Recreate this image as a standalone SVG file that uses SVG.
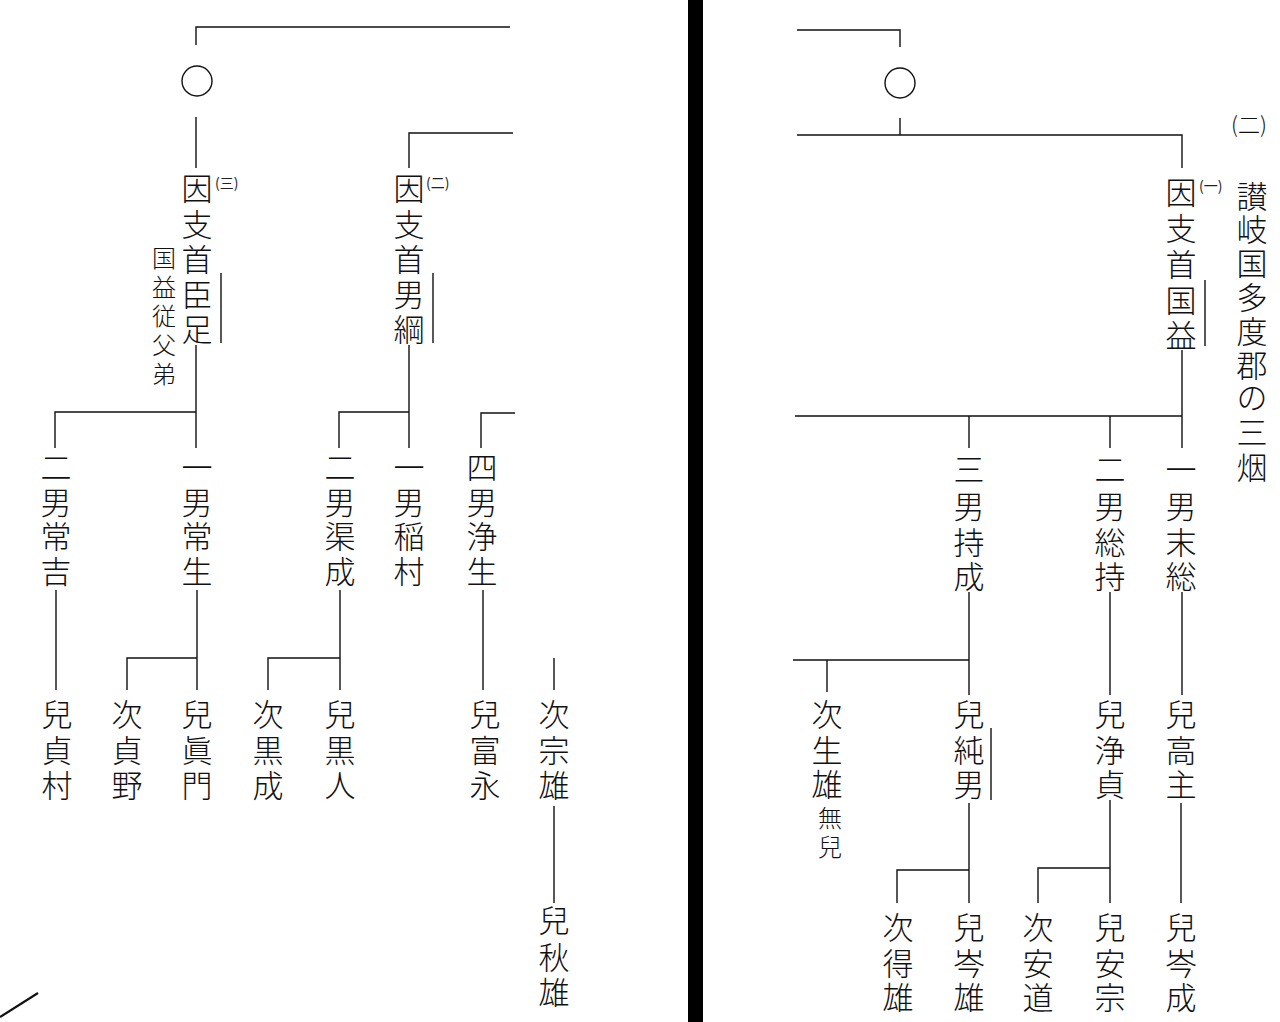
<svg xmlns="http://www.w3.org/2000/svg" width="1280" height="1022" viewBox="0 0 1280 1022">
<style>
.t{font-family:"Noto Sans CJK JP","Noto Sans CJK SC",sans-serif;font-size:31px;font-weight:300;fill:#111;text-anchor:middle;dominant-baseline:central}
.s{font-size:24px}
.n{font-family:"Noto Sans CJK JP",sans-serif;font-size:14px;fill:#222;dominant-baseline:central}
.c path,.c line{stroke:#111;stroke-width:1.4;fill:none}
.b{stroke:#111;stroke-width:1.4}
</style>
<rect width="1280" height="1022" fill="#fff"/>
<rect x="688" y="0" width="15" height="1022" fill="#000"/>
<line x1="38" y1="993" x2="0" y2="1017" stroke="#111" stroke-width="2.2"/>

<g class="c" id="connectors">
  <path d="M510 27H196V45"/>
  <path d="M196 117V168"/>
  <path d="M196 345V448M196 412H55V448"/>
  <path d="M56 590V690"/>
  <path d="M197 590V690M197 658H127V690"/>
  <path d="M513 133H409V168"/>
  <path d="M409 345V448M409 412H339V448"/>
  <path d="M340 590V690M340 658H268V690"/>
  <path d="M515 413H481V448"/>
  <path d="M483 590V690"/>
  <path d="M554 658V690M554 806V903"/>
  <path d="M797 30H900V47"/>
  <path d="M900 118V135M797 135H1182V168"/>
  <path d="M1182 350V448M795 416H1182M969 416V448M1110 416V448"/>
  <path d="M969 592V695M969 660H793M827 660V692"/>
  <path d="M1110 592V695"/>
  <path d="M1182 592V695"/>
  <path d="M969 803V903M969 870H897V903"/>
  <path d="M1110 800V903M1110 868H1038V903"/>
  <path d="M1181 803V903"/>
</g>

<g id="left-top-circle"><circle cx="197" cy="81" r="15" fill="none" stroke="#111" stroke-width="1.4"/></g>
<g id="right-top-circle"><circle cx="900" cy="83" r="15" fill="none" stroke="#111" stroke-width="1.4"/></g>

<g id="n-omi">
  <text class="t" x="197 197 197 197 197" y="186 222 257 292 327">因支首臣足</text>
  <text class="n" x="215" y="182">(三)</text>
  <line class="b" x1="221" y1="273" x2="221" y2="343"/>
  <text class="t s" x="164 164 164 164 164" y="256 285 314 343 372">国益従父弟</text>
</g>
<g id="n-otsuna">
  <text class="t" x="409 409 409 409 409" y="186 222 257 292 327">因支首男綱</text>
  <text class="n" x="426" y="182">(二)</text>
  <line class="b" x1="433" y1="273" x2="433" y2="343"/>
</g>
<g id="n-kunimasu">
  <text class="t" x="1181 1181 1181 1181 1181" y="190 226 262 298 333">因支首国益</text>
  <text class="n" x="1199" y="185">(一)</text>
  <line class="b" x1="1205" y1="280" x2="1205" y2="346"/>
</g>
<g id="title">
  <text class="t" style="font-size:22px" x="1249" y="123">(二)</text>
  <text class="t" x="1252 1252 1252 1252 1252 1252 1252 1252 1252" y="194 227 261 295 329 363 395 430 465">讃岐国多度郡の三烟</text>
</g>

<g id="n-tsuneyoshi"><text class="t" x="56 56 56 56" y="465 500 534 569">二男常吉</text></g>
<g id="n-tsuneo"><text class="t" x="197 197 197 197" y="465 500 534 569">一男常生</text></g>
<g id="n-mizonari"><text class="t" x="340 340 340 340" y="465 500 534 569">二男渠成</text></g>
<g id="n-inamura"><text class="t" x="409 409 409 409" y="465 500 534 569">一男稲村</text></g>
<g id="n-kiyoo"><text class="t" x="482 482 482 482" y="465 500 534 569">四男浄生</text></g>

<g id="n-mochinari"><text class="t" x="969 969 969 969" y="467 504 540 574">三男持成</text></g>
<g id="n-fusamochi"><text class="t" x="1110 1110 1110 1110" y="467 504 540 574">二男総持</text></g>
<g id="n-suefusa"><text class="t" x="1181 1181 1181 1181" y="467 504 540 574">一男末総</text></g>

<g id="n-sadamura"><text class="t" x="57 57 57" y="712 748 783">兒貞村</text></g>
<g id="n-sadano"><text class="t" x="127 127 127" y="712 748 783">次貞野</text></g>
<g id="n-makado"><text class="t" x="197 197 197" y="712 748 783">兒眞門</text></g>
<g id="n-kuronari"><text class="t" x="268 268 268" y="712 748 783">次黒成</text></g>
<g id="n-kurohito"><text class="t" x="340 340 340" y="712 748 783">兒黒人</text></g>
<g id="n-tominaga"><text class="t" x="485 485 485" y="712 748 783">兒富永</text></g>
<g id="n-muneo"><text class="t" x="554 554 554" y="712 748 783">次宗雄</text></g>
<g id="n-akio"><text class="t" x="554 554 554" y="918 955 990">兒秋雄</text></g>

<g id="n-ikio">
  <text class="t" x="827 827 827" y="712 748 782">次生雄</text>
  <text class="t s" x="830 830" y="816 845">無兒</text>
</g>
<g id="n-sumio">
  <text class="t" x="969 969 969" y="712 748 782">兒純男</text>
  <line class="b" x1="991" y1="728" x2="991" y2="800"/>
</g>
<g id="n-kiyosada"><text class="t" x="1110 1110 1110" y="712 748 782">兒浄貞</text></g>
<g id="n-takanushi"><text class="t" x="1181 1181 1181" y="712 748 782">兒高主</text></g>

<g id="n-etao"><text class="t" x="898 898 898" y="925 961 995">次得雄</text></g>
<g id="n-mineo"><text class="t" x="969 969 969" y="925 961 995">兒岑雄</text></g>
<g id="n-yasumichi"><text class="t" x="1038 1038 1038" y="925 961 995">次安道</text></g>
<g id="n-yasumune"><text class="t" x="1110 1110 1110" y="925 961 995">兒安宗</text></g>
<g id="n-minenari"><text class="t" x="1181 1181 1181" y="925 961 995">兒岑成</text></g>
</svg>
